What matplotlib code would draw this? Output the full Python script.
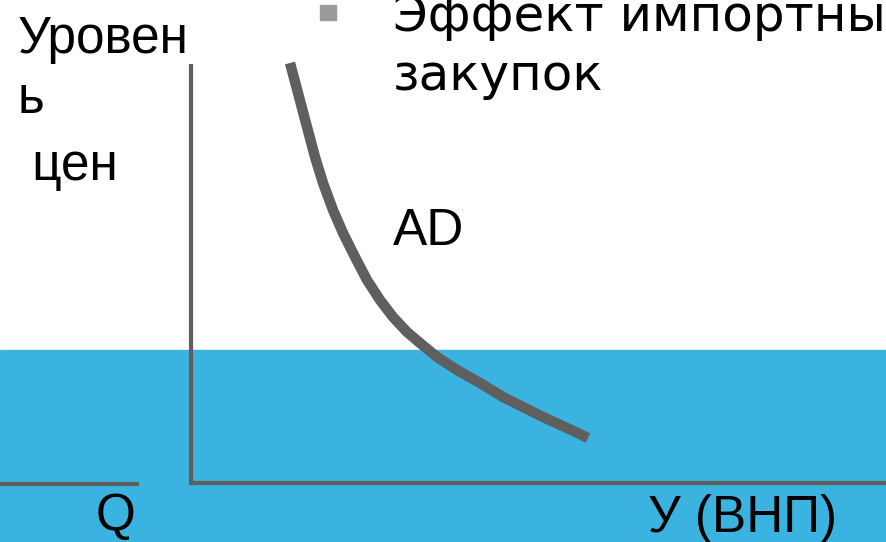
import numpy as np
import matplotlib.pyplot as plt
from matplotlib.patches import Rectangle

# AD curve (pixel coords, y down)
ad_x = [290, 298, 307, 315, 323, 333, 343, 355, 367, 380, 393,
        407, 420, 437, 457, 480, 503, 523, 543, 567, 588]
ad_y = [63, 93, 127, 157, 183, 210, 233, 257, 280, 300, 317,
        332, 343, 357, 370, 383, 397, 407, 417, 428, 438]

y_label_lines = ["Уровен", "ь", " цен"]
bullet_lines = ["Эффект импортных", "закупок"]
curve_label = "AD"
x_label = "У (ВНП)"
left_label = "Q"

W, H = 886, 542
fig = plt.figure(figsize=(W / 100, H / 100), dpi=100)
ax = fig.add_axes([0, 0, 1, 1])
ax.set_xlim(0, W)
ax.set_ylim(H, 0)
ax.axis("off")

# blue band at the bottom
ax.add_patch(Rectangle((0, 350), W, H - 350, color="#3bb3e0", zorder=0))

grey = "#5f5f5f"
# axes of the diagram
ax.plot([191, 191], [64, 484], color=grey, lw=3, solid_capstyle="butt")
ax.plot([189, W], [483, 483], color=grey, lw=3, solid_capstyle="butt")
ax.plot([0, 139], [484, 484], color=grey, lw=3, solid_capstyle="butt")

# AD curve
ax.plot(ad_x, ad_y, color=grey, lw=7.5, solid_capstyle="butt", solid_joinstyle="round")

fs = 37
font = "Liberation Sans"
ys = [53, 113, 180]
for t, y in zip(y_label_lines, ys):
    ax.text(18, y, t, fontsize=fs, family=font, va="baseline", ha="left")

# bullet text is wider in the original, DejaVu fits it better
ax.add_patch(Rectangle((320, 5), 16, 15, color="#9a9a9a"))
ax.text(393, 31, bullet_lines[0], fontsize=36, family="DejaVu Sans", va="baseline", ha="left")
ax.text(393, 90, bullet_lines[1], fontsize=36, family="DejaVu Sans", va="baseline", ha="left")

ax.text(393, 245, curve_label, fontsize=fs, family=font, va="baseline", ha="left")
ax.text(96, 530, left_label, fontsize=fs, family=font, va="baseline", ha="left")
ax.text(648, 532, x_label, fontsize=fs, family=font, va="baseline", ha="left")

fig.savefig("out.png", dpi=100)
